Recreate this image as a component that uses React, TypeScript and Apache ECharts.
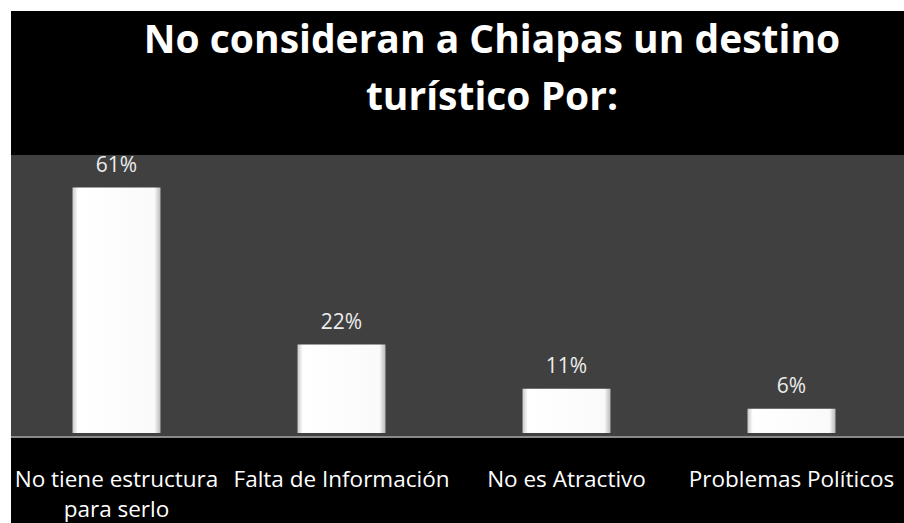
import React, { useEffect, useRef } from "react";
import * as echarts from "echarts";

const categories = [
  "No tiene estructura\npara serlo",
  "Falta de Información",
  "No es Atractivo",
  "Problemas Políticos",
];
const values = [61, 22, 11, 6];
const titleLines = ["No consideran a Chiapas un destino", "turístico Por:"];

export default function App() {
  const ref = useRef<HTMLDivElement>(null);
  useEffect(() => {
    if (!ref.current) return;
    const chart = echarts.init(ref.current, null, { renderer: "svg" });
    chart.setOption({
      animation: false,
      backgroundColor: "#ffffff",
      graphic: [
        {
          type: "rect",
          z: -20,
          silent: true,
          shape: { x: 11, y: 11, width: 893, height: 512 },
          style: { fill: "#000000" },
        },
        {
          type: "rect",
          z: -10,
          silent: true,
          shape: { x: 11, y: 155, width: 893, height: 282 },
          style: { fill: "#404040" },
        },
        {
          type: "line",
          z: 10,
          silent: true,
          shape: { x1: 11, y1: 437, x2: 904, y2: 437 },
          style: { stroke: "#8a8a8a", lineWidth: 2 },
        },
        {
          type: "text",
          x: 492,
          y: 9,
          style: {
            text: titleLines.join("\n"),
            fill: "#ffffff",
            font: "bold 39px 'Open Sans'",
            textAlign: "center",
            textVerticalAlign: "top",
            lineHeight: 57,
          },
        },
      ],
      grid: { left: 4, right: 0, top: 151.4, height: 285.6, containLabel: false },
      xAxis: {
        type: "category",
        data: categories,
        axisLine: { show: false },
        axisTick: { show: false },
        axisLabel: {
          color: "#ffffff",
          fontFamily: "Open Sans",
          fontSize: 22.5,
          lineHeight: 30,
          margin: 30,
          interval: 0,
        },
      },
      yAxis: {
        type: "value",
        min: 0,
        max: 70,
        show: false,
        splitLine: { show: false },
      },
      series: [
        {
          type: "bar",
          data: values,
          barWidth: 88,
          itemStyle: {
            color: {
              type: "linear",
              x: 0,
              y: 0,
              x2: 1,
              y2: 0,
              colorStops: [
                { offset: 0, color: "#c8c8c8" },
                { offset: 0.06, color: "#ffffff" },
                { offset: 0.93, color: "#fafafa" },
                { offset: 1, color: "#b8b8b8" },
              ],
            },
          },
          label: {
            show: true,
            position: "top",
            distance: 13,
            formatter: "{c}%",
            color: "#ececec",
            fontFamily: "Open Sans",
            fontSize: 21,
          },
        },
      ],
    });
    return () => chart.dispose();
  }, []);
  return (
    <div
      ref={ref}
      style={{ position: "absolute", left: 0, top: 0, width: 904, height: 523 }}
    />
  );
}
